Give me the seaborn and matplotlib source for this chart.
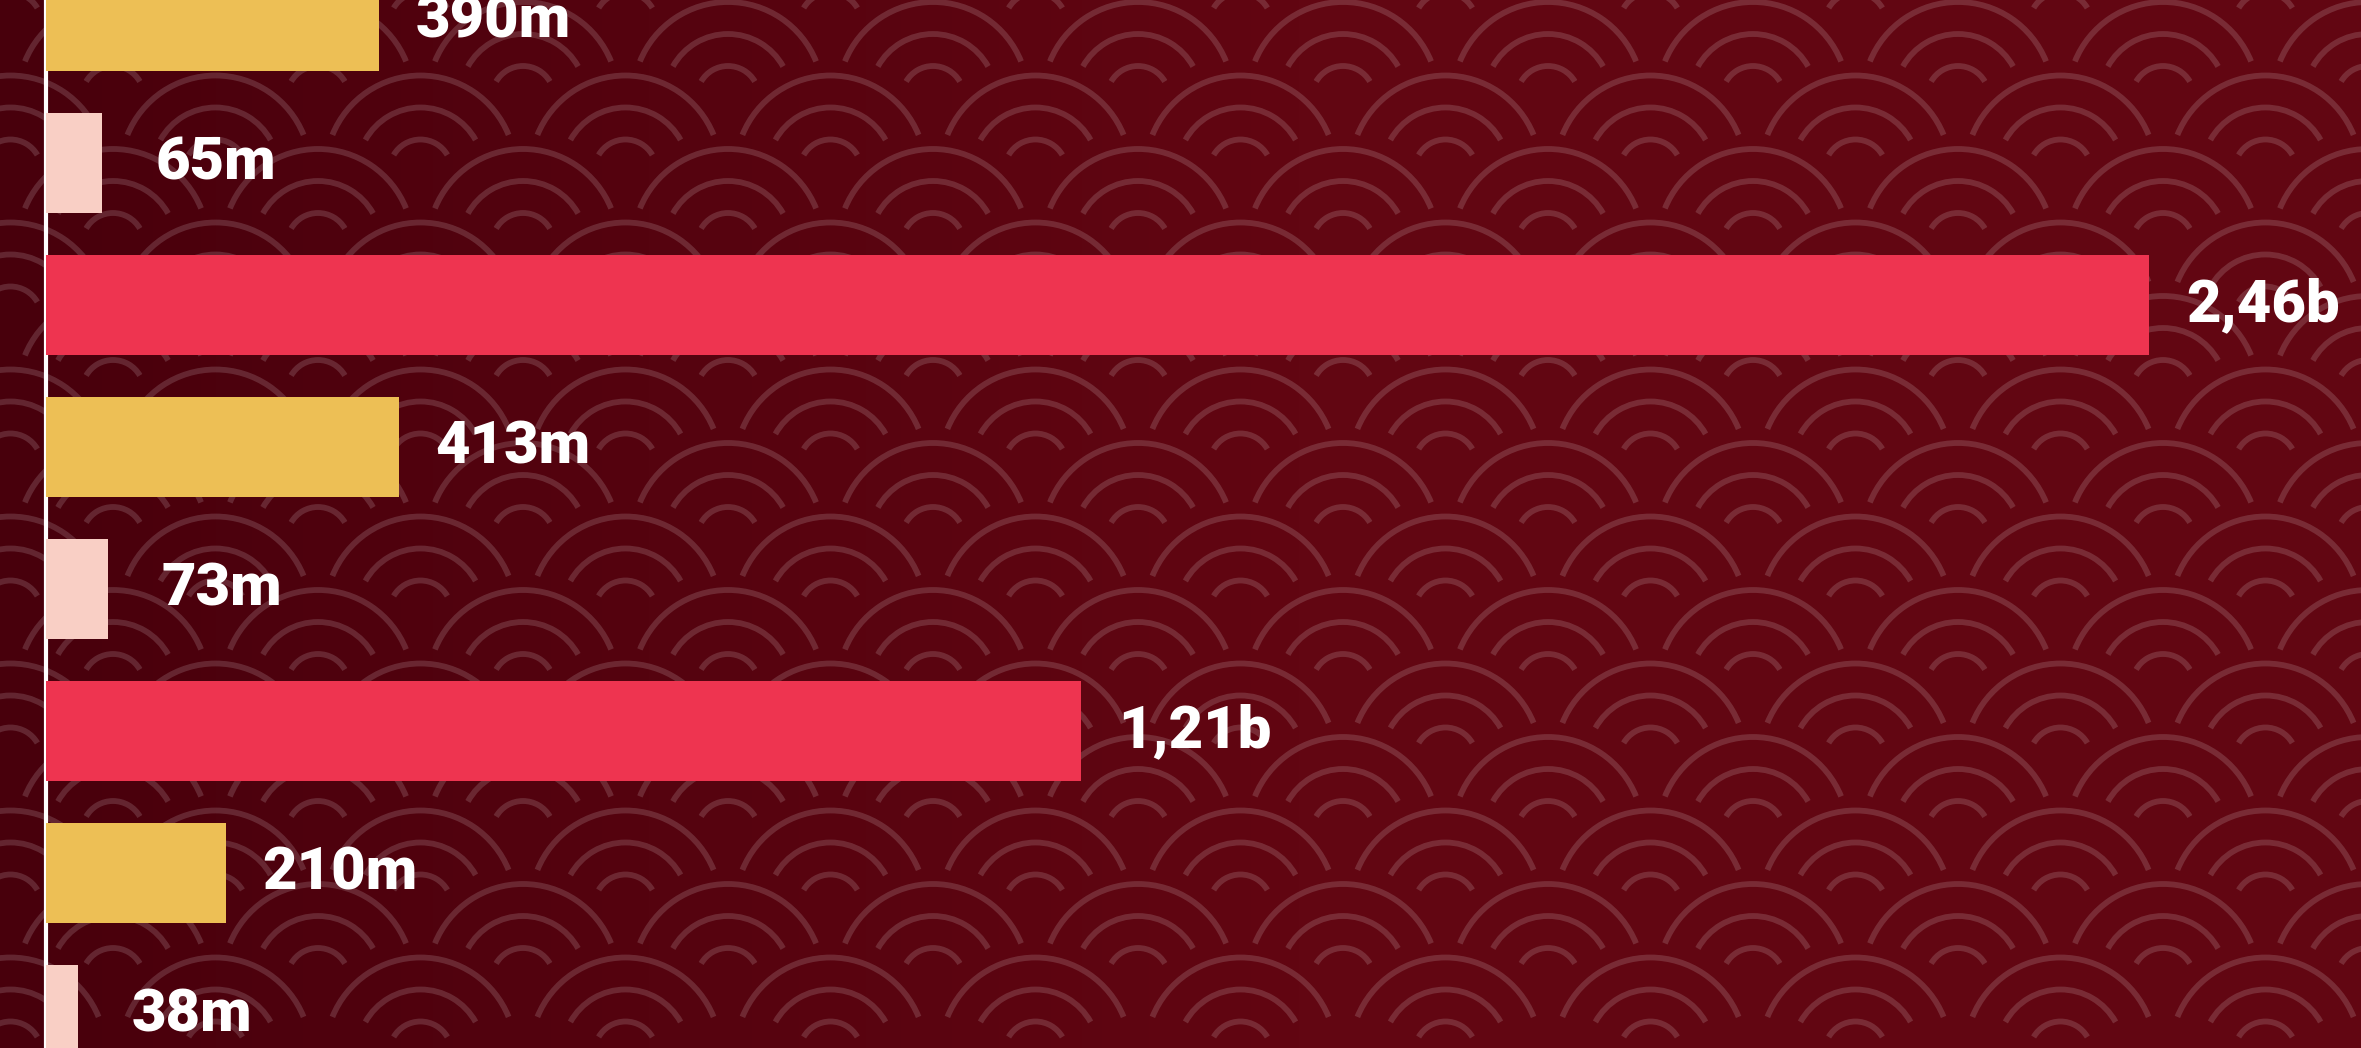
import numpy as np
import pandas as pd
import matplotlib
matplotlib.use("Agg")
import matplotlib.pyplot as plt
from matplotlib.patches import Arc
import seaborn as sns

# ---- data ----
rows = ["r1", "r2", "r3", "r4", "r5", "r6", "r7", "r8"]
series = ["A", "B", "C", "A", "B", "C", "A", "B"]
values_m = [390, 65, 2460, 413, 73, 1210, 210, 38]
value_labels = ["390m", "65m", "2,46b", "413m", "73m", "1,21b", "210m", "38m"]
series_colors = {"A": "#EDBF55", "B": "#F9CFC5", "C": "#EE3450"}

W, H = 2361, 1048
fig = plt.figure(figsize=(W / 100, H / 100), dpi=100)

# ---- background: gradient + seigaiha wave pattern (decoration) ----
bg = fig.add_axes([0, 0, 1, 1])
bg.set_xlim(0, W)
bg.set_ylim(H, 0)
bg.axis("off")
left = np.array([72, 0, 12]) / 255
right = np.array([98, 6, 18]) / 255
t = np.clip(np.linspace(0, W, 600) / 1300.0, 0, 1)
grad = left[None, :] * (1 - t[:, None]) + right[None, :] * t[:, None]
bg.imshow(grad[None, :, :], extent=[0, W, H, 0], aspect="auto", zorder=0)

arc_color = (1, 1, 1, 0.15)
lw_pt = 5.8 * 0.72
radii = [95, 63, 31]
angles = [22, 29, 30]
for r in range(-10, 6):
    cy = 685 + 73.5 * r
    xoff = -102.5 if (r % 2) else 0.0
    for k in range(-7, 8):
        cx = 1138 + 205 * k + xoff
        if cx < -120 or cx > W + 120:
            continue
        for rad, th in zip(radii, angles):
            bg.add_patch(Arc((cx, cy), 2 * rad, 2 * rad, theta1=180 + th,
                             theta2=360 - th, color=arc_color, lw=lw_pt,
                             zorder=1))

# ---- bars ----
ax = fig.add_axes([0, 0, 1, 1])
ax.patch.set_alpha(0)
df = pd.DataFrame({"row": rows, "value": values_m, "series": series})
sns.barplot(data=df, x="value", y="row", hue="series", palette=series_colors,
            dodge=False, width=0.704, saturation=1, legend=False, ax=ax,
            orient="h")
ax.axvline(0, color="white", lw=3, zorder=0.5)

for i, (v, lbl) in enumerate(zip(values_m, value_labels)):
    ax.annotate(lbl, xy=(v, i), xytext=(82, 0), textcoords="offset points",
                ha="center", va="center", color="white", fontsize=43,
                fontweight="heavy", family=["Roboto", "DejaVu Sans"])

ax.set_xlim(-53.8, 2707.6)
ax.set_ylim(7.232, -0.148)
ax.set_xlabel("")
ax.set_ylabel("")
ax.set_xticks([])
ax.set_yticks([])
for s in ax.spines.values():
    s.set_visible(False)

fig.savefig("out.png", dpi=100)
